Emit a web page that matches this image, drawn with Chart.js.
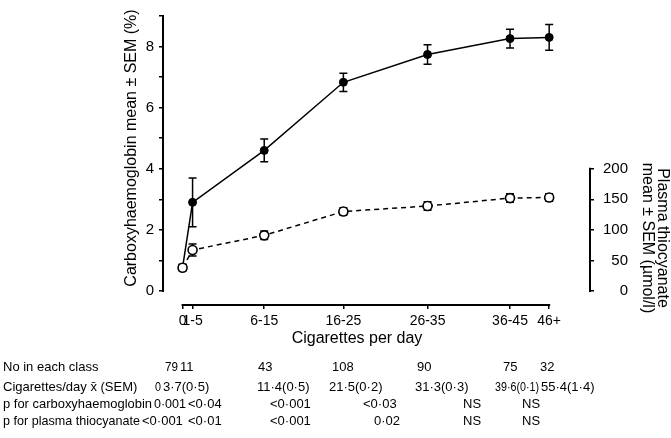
<!DOCTYPE html>
<html><head><meta charset="utf-8">
<script src="https://cdn.jsdelivr.net/npm/chart.js@4"></script>
<style>html,body{margin:0;padding:0;background:#fff;}#wrap{width:671px;height:438px;}</style>
</head><body><div id="wrap"><canvas id="c" width="671" height="438"></canvas></div>
<script>
// ---- data ----
const categories = ['0', '1-5', '6-15', '16-25', '26-35', '36-45', '46+'];
const xPositions = [0, 1.2, 9.8, 19.3, 29.4, 39.3, 44.0];
const carboxyMean = [0.77, 2.9, 4.6, 6.83, 7.74, 8.26, 8.3];
const carboxySEM = [0.1, 0.8, 0.37, 0.3, 0.32, 0.31, 0.42];
const thiocyanateMean = [38, 67, 91, 130, 139, 152, 153];
const thiocyanateSEM = [5, 10, 7, 6, 7, 7, 6];
const leftTickValues = [0, 1, 2, 3, 4, 5, 6, 7, 8, 9];
const leftTickLabels = ['0', '', '2', '', '4', '', '6', '', '8', ''];
const rightTickValues = [0, 50, 100, 150, 200];
const rowLabels = ['No in each class', 'Cigarettes/day x\u0304 (SEM)', 'p for carboxyhaemoglobin', 'p for plasma thiocyanate'];
const nPerClass = ['79', '11', '43', '108', '90', '75', '32'];
const cigMeanSEM = ['0', '3\u00b77(0\u00b75)', '11\u00b74(0\u00b75)', '21\u00b75(0\u00b72)', '31\u00b73(0\u00b73)', '39\u00b76(0\u00b71)', '55\u00b74(1\u00b74)'];
const pCarboxy = ['0\u00b7001', '<0\u00b704', '<0\u00b7001', '<0\u00b703', 'NS', 'NS'];
const pThio = ['<0\u00b7001', '<0\u00b701', '<0\u00b7001', '0\u00b702', 'NS', 'NS'];

// ---- layout (positions, not data) ----
const FONT = "'Liberation Sans', Arial, sans-serif";
const tableCols = [
  [165, 180, 258, 332, 417, 503, 540],
  [155, 163, 257, 329, 415, 495, 541],
  [154, 188, 270, 363, 463, 522],
  [142, 188, 270, 374, 463, 522]
];
const tableRowY = [367, 387, 404, 421];

const axesAndText = {
  id: 'axesAndText',
  beforeDatasetsDraw(chart) {
    const c = chart.ctx, xs = chart.scales.x, y = chart.scales.y, y2 = chart.scales.y2;
    c.save();
    c.strokeStyle = '#000'; c.lineWidth = 1.5;
    const drawErr = (means, sems, sc) => {
      means.forEach((m, i) => {
        const px = xs.getPixelForValue(xPositions[i]);
        const t = sc.getPixelForValue(m + sems[i]), b = sc.getPixelForValue(m - sems[i]);
        c.beginPath();
        c.moveTo(px, t); c.lineTo(px, b);
        c.moveTo(px - 4, t); c.lineTo(px + 4, t);
        c.moveTo(px - 4, b); c.lineTo(px + 4, b);
        c.stroke();
      });
    };
    drawErr(carboxyMean, carboxySEM, y);
    drawErr(thiocyanateMean, thiocyanateSEM, y2);
    c.restore();
  },
  afterDraw(chart) {
    const c = chart.ctx, xs = chart.scales.x, y = chart.scales.y, y2 = chart.scales.y2;
    const a = chart.chartArea;
    c.save();
    c.strokeStyle = '#000'; c.lineWidth = 2; c.lineCap = 'square';
    c.beginPath();
    c.moveTo(a.left, y.getPixelForValue(9)); c.lineTo(a.left, y.getPixelForValue(0));
    c.moveTo(a.right, y2.getPixelForValue(200)); c.lineTo(a.right, y2.getPixelForValue(0));
    c.moveTo(xs.getPixelForValue(xPositions[0]), a.bottom); c.lineTo(xs.getPixelForValue(xPositions[xPositions.length - 1]), a.bottom);
    c.stroke();
    c.fillStyle = '#000';
    // axis titles
    c.font = '16px ' + FONT;
    c.textAlign = 'center'; c.textBaseline = 'middle';
    c.save(); c.translate(132, 148); c.rotate(-Math.PI / 2);
    c.fillText('Carboxyhaemoglobin mean \u00b1 SEM (%)', 0, 0); c.restore();
    c.save(); c.translate(662, 238); c.rotate(Math.PI / 2);
    c.fillText('Plasma thiocyanate', 0, 0);
    c.fillText('mean \u00b1 SEM (\u00b5mol/l)', 0, 15); c.restore();
    c.textBaseline = 'alphabetic';
    c.fillText('Cigarettes per day', 357, 343);
    // table
    c.font = '13px ' + FONT; c.textAlign = 'left'; c.textBaseline = 'middle';
    const rows = [nPerClass, cigMeanSEM, pCarboxy, pThio];
    rowLabels.forEach((lab, r) => {
      const cols = tableCols[r];
      c.fillText(lab, 3, tableRowY[r], cols[0] - 5);
      rows[r].forEach((v, k) => {
        const maxW = k < cols.length - 1 ? cols[k + 1] - cols[k] - 2 : 60;
        c.fillText(v, cols[k], tableRowY[r], maxW);
      });
    });
    c.restore();
  }
};

const tickGrid = { drawOnChartArea: false, tickLength: 4, color: '#000', lineWidth: 1.5 };
const tickFont = { family: FONT, size: 14 };

new Chart(document.getElementById('c'), {
  type: 'line',
  data: {
    datasets: [
      {
        label: 'Plasma thiocyanate', yAxisID: 'y2',
        data: xPositions.map((x, i) => ({ x: x, y: thiocyanateMean[i] })),
        borderColor: '#000', borderWidth: 1.5, borderDash: [5, 4],
        pointRadius: 4.5, pointBackgroundColor: '#fff', pointBorderColor: '#000', pointBorderWidth: 1.6
      },
      {
        label: 'Carboxyhaemoglobin', yAxisID: 'y',
        data: xPositions.map((x, i) => ({ x: x, y: carboxyMean[i] })),
        borderColor: '#000', borderWidth: 1.5,
        pointRadius: 4, pointBackgroundColor: '#000', pointBorderColor: '#000', pointBorderWidth: 1
      }
    ]
  },
  options: {
    responsive: false, animation: false, events: [],
    layout: { padding: { left: 120, top: 16, right: 43, bottom: 0 } },
    plugins: { legend: { display: false }, tooltip: { enabled: false } },
    scales: {
      x: {
        type: 'linear', min: -2.35, max: 48.9,
        afterBuildTicks: s => { s.ticks = xPositions.map(v => ({ value: v })); },
        ticks: { autoSkip: false, maxRotation: 0, color: '#000', padding: 4,
          font: tickFont, callback: (v, i) => categories[i] },
        grid: tickGrid, border: { display: false },
        afterFit: s => { s.height = 133; }
      },
      y: {
        position: 'left', min: -0.46, max: 9,
        afterBuildTicks: s => { s.ticks = leftTickValues.map(v => ({ value: v })); },
        ticks: { color: '#000', padding: 5, font: { family: FONT, size: 15 },
          callback: (v, i) => leftTickLabels[i] },
        grid: tickGrid, border: { display: false },
        afterFit: s => { s.width = 43; }
      },
      y2: {
        position: 'right', min: -23, max: 450,
        afterBuildTicks: s => { s.ticks = rightTickValues.map(v => ({ value: v })); },
        ticks: { color: '#000', padding: 5, crossAlign: 'far', font: { family: FONT, size: 15 },
          callback: (v, i) => String(rightTickValues[i]) },
        grid: tickGrid, border: { display: false },
        afterFit: s => { s.width = 38; }
      }
    }
  },
  plugins: [axesAndText]
});
</script></body></html>
